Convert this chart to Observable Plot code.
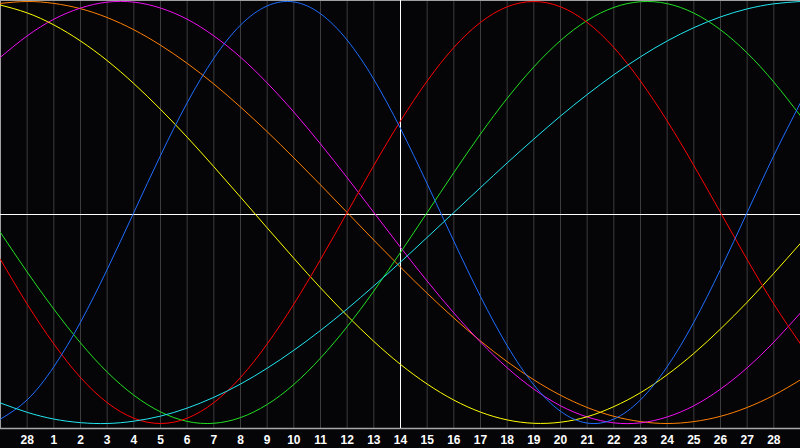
<!DOCTYPE html>
<html>
<head>
<meta charset="utf-8">
<script src="https://cdn.jsdelivr.net/npm/d3@7"></script>
<script src="https://cdn.jsdelivr.net/npm/@observablehq/plot@0.6"></script>
<style>
html,body{margin:0;padding:0;background:#050508;overflow:hidden;}
#chart svg{display:block;}
</style>
</head>
<body>
<div id="chart"></div>
<script>
// Day slots across the window (slot 15 = today, labelled 14)
const days = [0,1,2,3,4,5,6,7,8,9,10,11,12,13,14,15,16,17,18,19,20,21,22,23,24,25,26,27,28,29,30];
const tickDays = [1,2,3,4,5,6,7,8,9,10,11,12,13,14,15,16,17,18,19,20,21,22,23,24,25,26,27,28,29];
const tickLabels = ["28","1","2","3","4","5","6","7","8","9","10","11","12","13","14","15","16","17","18","19","20","21","22","23","24","25","26","27","28"];
const today = [15];

// cycle values, one per day slot
const physical23 = [-0.979,-0.888,-0.731,-0.520,-0.270,0,0.270,0.520,0.731,0.888,0.979,0.998,0.942,0.817,0.631,0.398,0.136,-0.136,-0.398,-0.631,-0.817,-0.942,-0.998,-0.979,-0.888,-0.731,-0.520,-0.270,0,0.270,0.520];
const emotional28 = [-0.223,-0.434,-0.623,-0.782,-0.901,-0.975,-1,-0.975,-0.901,-0.782,-0.623,-0.434,-0.223,0,0.223,0.434,0.623,0.782,0.901,0.975,1,0.975,0.901,0.782,0.623,0.434,0.223,0,-0.223,-0.434,-0.623];
const intellectual33 = [-0.095,-0.282,-0.458,-0.618,-0.756,-0.866,-0.945,-0.990,-0.999,-0.972,-0.910,-0.815,-0.690,-0.541,-0.372,-0.189,0,0.189,0.372,0.541,0.690,0.815,0.910,0.972,0.999,0.990,0.945,0.866,0.756,0.618,0.458];
const intuitive38 = [0.736,0.837,0.916,0.969,0.997,0.997,0.969,0.916,0.837,0.736,0.614,0.476,0.325,0.165,0,-0.165,-0.325,-0.476,-0.614,-0.736,-0.837,-0.916,-0.969,-0.997,-0.997,-0.969,-0.916,-0.837,-0.736,-0.614,-0.476];
const aesthetic43 = [0.983,0.946,0.889,0.813,0.720,0.611,0.489,0.357,0.217,0.073,-0.073,-0.217,-0.357,-0.489,-0.611,-0.720,-0.813,-0.889,-0.946,-0.983,-0.999,-0.994,-0.968,-0.920,-0.854,-0.769,-0.668,-0.552,-0.425,-0.288,-0.146];
const awareness48 = [0.991,1,0.991,0.966,0.924,0.866,0.793,0.707,0.609,0.5,0.383,0.259,0.131,0,-0.131,-0.259,-0.383,-0.5,-0.609,-0.707,-0.793,-0.866,-0.924,-0.966,-0.991,-1,-0.991,-0.966,-0.924,-0.866,-0.793];
const spiritual53 = [-0.903,-0.947,-0.979,-0.996,-1.000,-0.989,-0.965,-0.927,-0.876,-0.813,-0.738,-0.653,-0.559,-0.457,-0.348,-0.235,-0.118,0,0.118,0.235,0.348,0.457,0.559,0.653,0.738,0.813,0.876,0.927,0.965,0.989,1.000];

const seriesNames = ["Awareness","Intuitive","Aesthetic","Intellectual","Emotional","Physical","Spiritual"];
const seriesValues = [awareness48, intuitive38, aesthetic43, intellectual33, emotional28, physical23, spiritual53];
const seriesColors = ["#ff8000","#f010f0","#ffff00","#22e022","#ff0000","#1e6eff","#22e6f0"];

const rows = [];
seriesNames.forEach((name, s) => {
  seriesValues[s].forEach((v, i) => rows.push({name, day: days[i], value: v}));
});

const chart = Plot.plot({
  width: 800,
  height: 448,
  marginTop: 0,
  marginLeft: 0,
  marginRight: 0,
  marginBottom: 20,
  style: {background: "#050508", color: "#ffffff", fontFamily: "Arial, 'Liberation Sans', sans-serif", fontSize: "12px", fontWeight: "bold"},
  x: {domain: [0, 30], label: null},
  y: {domain: [-1, 1], range: [423, 1], axis: null, label: null},
  color: {domain: seriesNames, range: seriesColors},
  marks: [
    Plot.ruleX(tickDays, {stroke: "#3c3c3c", strokeWidth: 1}),
    Plot.frame({anchor: "top", stroke: "#a0a0a0"}),
    Plot.frame({anchor: "left", stroke: "#a0a0a0"}),
    Plot.frame({anchor: "bottom", stroke: "#a8a8a8", strokeWidth: 1.3}),
    Plot.ruleX(today, {stroke: "#ffffff", strokeWidth: 1}),
    Plot.ruleY([0], {stroke: "#ffffff", strokeWidth: 1, dy: 2}),
    Plot.line(rows, {x: "day", y: "value", z: "name", stroke: "name", strokeWidth: 1, curve: "natural"}),
    Plot.axisX(tickDays, {
      label: null,
      tickSize: 0,
      tickPadding: 7,
      tickFormat: d => tickLabels[tickDays.indexOf(d)],
      fill: "#ffffff",
      fontWeight: "bold",
      fontSize: 12
    })
  ]
});
document.getElementById("chart").appendChild(chart);
</script>
</body>
</html>
